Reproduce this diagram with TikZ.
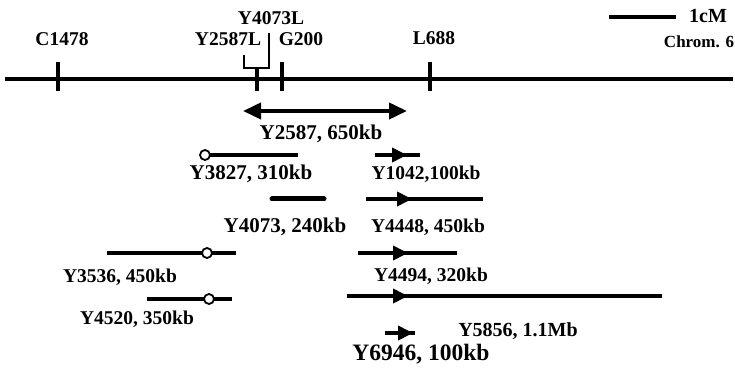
\documentclass[tikz,border=0pt]{standalone}
\usepackage{fontspec}
\setmainfont{Liberation Serif}
\usetikzlibrary{arrows.meta}
\usetikzlibrary{decorations.markings}

\tikzset{
    lab/.style={font=\fontsize{19.5}{20}\selectfont\bfseries, anchor=base, inner sep=0pt},
    biglab/.style={lab, font=\fontsize{21}{22}\selectfont\bfseries},
    chrom/.style={line width=4.5pt},
    clone/.style={line width=3.8pt},
    hole/.style={circle, draw, fill=white, line width=1.8pt, minimum size=10pt, inner sep=0pt},
    headat/.style={postaction={decorate, decoration={markings,
        mark=at position #1 with {\arrow{Triangle[length=15pt,width=14pt]}}}}},
}

\begin{document}
\begin{tikzpicture}[x=1pt, y=-1pt]
    \useasboundingbox (0,0) rectangle (735,371);

    % chromosome and markers
    \draw[chrom] (5,79) -- (733,79);
    \foreach \x/\t in {58/62, 257/68, 282/62, 430/62} {
        \draw[line width=3.2pt] (\x,\t) -- (\x,91);
    }
    \draw[line width=2.2pt] (244,55) |- (269,68) -- (269,33);

    \node[lab] (c1478) at (62,46) {C1478};
    \node[lab] (y2587l) at (228,46) {Y2587L};
    \node[lab] (y4073l) at (271,25) {Y4073L};
    \node[lab] (g200) at (301,46) {G200};
    \node[lab] (l688) at (434,45) {L688};
    \node[lab, font=\fontsize{17}{18}\selectfont\bfseries] (chrom6) at (699,48) {Chrom. 6};

    % scale bar
    \draw[line width=3.8pt] (609,17) -- (676,17);
    \node[lab, font=\fontsize{20}{21}\selectfont\bfseries] (cm) at (708,23) {1cM};

    % YAC clones
    \draw[clone, {Triangle[length=18pt,width=16pt]}-{Triangle[length=18pt,width=16pt]}] (243,111) -- (407,111);
    \node[biglab] (y2587) at (321,140) {Y2587, 650kb};

    \draw[clone] (205,155) -- (298,155);
    \node[hole] (e3827) at (205,155) {};
    \node[biglab] (y3827) at (251,180) {Y3827, 310kb};

    \draw[clone, headat=32pt] (375,155) -- (420,155);
    \node[lab] (y1042) at (426,180) {Y1042,100kb};

    \draw[clone, line width=5pt, line cap=round] (272,199) -- (324,199);
    \node[biglab] (y4073) at (285,232) {Y4073, 240kb};

    \draw[clone, headat=46pt] (366,199) -- (483,199);
    \node[lab] (y4448) at (428,232) {Y4448, 450kb};

    \draw[clone] (107,253) -- (236,253);
    \node[hole] (e3536) at (207,253) {};
    \node[lab] (y3536) at (120,282) {Y3536, 450kb};

    \draw[clone, headat=50pt] (358,253) -- (457,253);
    \node[lab] (y4494) at (431,281) {Y4494, 320kb};

    \draw[clone] (147,299) -- (232,299);
    \node[hole] (e4520) at (209,299) {};
    \node[lab] (y4520) at (137,324) {Y4520, 350kb};

    \draw[clone, headat=61pt] (347,296) -- (662,296);
    \node[lab, font=\fontsize{20}{21}\selectfont\bfseries] (y5856) at (518,336) {Y5856, 1.1Mb};

    \draw[clone, headat=28pt] (385,333) -- (415,333);
    \node[lab, font=\fontsize{23.5}{24}\selectfont\bfseries] (y6946) at (421,360) {Y6946, 100kb};
\end{tikzpicture}
\end{document}
